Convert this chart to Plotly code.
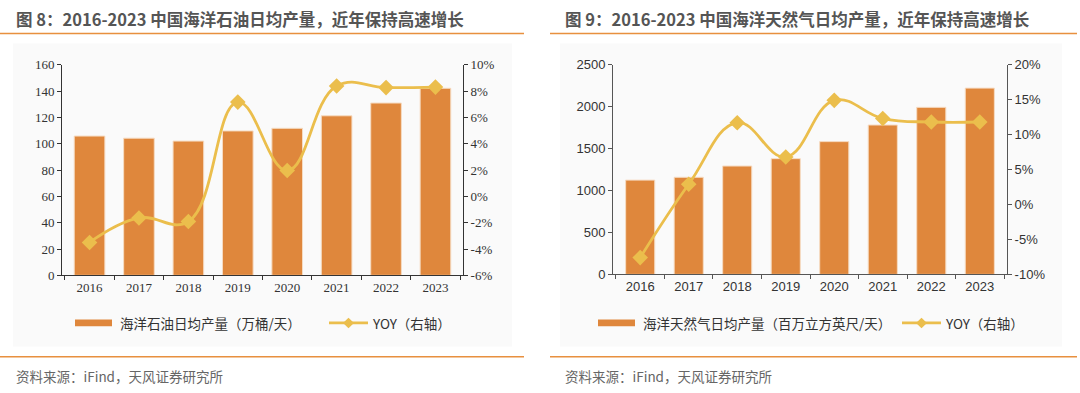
import plotly.graph_objects as go

W, H = 1080, 393

years = ["2016", "2017", "2018", "2019", "2020", "2021", "2022", "2023"]
oil_output = [105.8, 104.2, 102.0, 109.7, 111.7, 121.2, 130.9, 142.1]
oil_yoy = [-3.5, -1.64, -1.91, 7.16, 1.96, 8.38, 8.26, 8.3]
gas_output = [1124, 1158, 1292, 1380, 1583, 1781, 1992, 2221]
gas_yoy = [-7.6, 2.9, 11.7, 6.8, 14.9, 12.3, 11.8, 11.8]

oil_yoy_ticks = [-6, -4, -2, 0, 2, 4, 6, 8, 10]
oil_yoy_ticklabels = ["-6%", "-4%", "-2%", "0%", "2%", "4%", "6%", "8%", "10%"]
gas_yoy_ticks = [-10, -5, 0, 5, 10, 15, 20]
gas_yoy_ticklabels = ["-10%", "-5%", "0%", "5%", "10%", "15%", "20%"]

title_left = "图 8：2016-2023 中国海洋石油日均产量，近年保持高速增长"
title_right = "图 9：2016-2023 中国海洋天然气日均产量，近年保持高速增长"
legend_oil = "海洋石油日均产量（万桶/天）"
legend_gas = "海洋天然气日均产量（百万立方英尺/天）"
legend_yoy = "YOY（右轴）"
source_text = "资料来源：iFind，天风证券研究所"

BAR = "#DF873C"
BAR_EDGE = "#F6DCC3"
LINE = "#EBBE4C"
ORANGE = "#E8903F"
TITLE_C = "#555555"


def px(x):
    return x / W


def py(y):
    return 1 - y / H


fig = go.Figure()

fig.add_trace(go.Bar(x=years, y=oil_output, xaxis="x", yaxis="y",
                     marker=dict(color=BAR, line=dict(color=BAR_EDGE, width=1)),
                     width=0.62, name=legend_oil, showlegend=False))
fig.add_trace(go.Scatter(x=years, y=oil_yoy, xaxis="x", yaxis="y2", mode="lines+markers",
                         line=dict(color=LINE, width=2.8, shape="spline", smoothing=1.2),
                         marker=dict(symbol="diamond", size=12, color=LINE),
                         name=legend_yoy, showlegend=False))
fig.add_trace(go.Bar(x=years, y=gas_output, xaxis="x2", yaxis="y3",
                     marker=dict(color=BAR, line=dict(color=BAR_EDGE, width=1)),
                     width=0.6, name=legend_gas, showlegend=False))
fig.add_trace(go.Scatter(x=years, y=gas_yoy, xaxis="x2", yaxis="y4", mode="lines+markers",
                         line=dict(color=LINE, width=2.8, shape="spline", smoothing=1.2),
                         marker=dict(symbol="diamond", size=12, color=LINE),
                         name=legend_yoy, showlegend=False))

serif = dict(family="Liberation Serif", size=13, color="#333333")
sans = dict(family="Liberation Sans", size=13, color="#333333")

dom_l = [px(62), px(463)]
dom_r = [px(613), px(1007)]
ydom_l = [py(279), py(60)]
ydom_r = [py(278), py(60)]

xcommon = dict(type="category", showgrid=False, ticks="outside", tickson="boundaries",
               ticklen=4, showline=True, linewidth=1, zeroline=False)
ycommon = dict(showgrid=False, ticks="outside", ticklen=4, showline=True,
               linewidth=1, zeroline=False)

fig.update_layout(
    width=W, height=H, autosize=False,
    margin=dict(l=0, r=0, t=0, b=0),
    paper_bgcolor="white", plot_bgcolor="rgba(0,0,0,0)",
    xaxis=dict(domain=dom_l, anchor="y", tickfont=serif, linecolor="#333333",
               tickcolor="#333333", **xcommon),
    yaxis=dict(domain=ydom_l, anchor="x", range=[0, 160], dtick=20, tickfont=serif,
               linecolor="#333333", tickcolor="#333333", **ycommon),
    yaxis2=dict(overlaying="y", side="right", anchor="x", range=[-6, 10],
                tickvals=oil_yoy_ticks, ticktext=oil_yoy_ticklabels,
                tickfont=serif, linecolor="#333333", tickcolor="#333333", **ycommon),
    xaxis2=dict(domain=dom_r, anchor="y3", tickfont=sans, linecolor="#555555",
                tickcolor="#555555", **xcommon),
    yaxis3=dict(domain=ydom_r, anchor="x2", range=[0, 2500], dtick=500, tickfont=sans,
                linecolor="#555555", tickcolor="#555555", **ycommon),
    yaxis4=dict(overlaying="y3", side="right", anchor="x2", range=[-10, 20],
                tickvals=gas_yoy_ticks, ticktext=gas_yoy_ticklabels,
                tickfont=sans, linecolor="#555555", tickcolor="#555555", **ycommon),
)

shapes = []
annotations = []

# faint panels
shapes.append(dict(type="rect", xref="paper", yref="paper", x0=px(13), x1=px(512),
                   y0=py(353), y1=py(38), fillcolor="#FAFAFA", line=dict(width=0), layer="below"))
shapes.append(dict(type="rect", xref="paper", yref="paper", x0=px(560), x1=px(1062),
                   y0=py(353), y1=py(38), fillcolor="#FAFAFA", line=dict(width=0), layer="below"))

# orange rules
for x0, x1 in [(0, 524), (550, 1077)]:
    for y in (27.5, 363.5):
        shapes.append(dict(type="line", xref="paper", yref="paper", x0=px(x0), x1=px(x1),
                           y0=py(y), y1=py(y), line=dict(color=ORANGE, width=1.5)))

# titles and sources
for x, t in [(14, title_left), (563, title_right)]:
    annotations.append(dict(text="<b>" + t + "</b>", xref="paper", yref="paper", x=px(x), y=py(12.5),
                            xanchor="left", yanchor="middle", showarrow=False,
                            font=dict(family="Noto Sans CJK SC", size=16.5, color=TITLE_C)))
    annotations.append(dict(text=source_text, xref="paper", yref="paper", x=px(x), y=py(384),
                            xanchor="left", yanchor="middle", showarrow=False,
                            font=dict(family="Noto Sans CJK SC", size=13.5, color="#666666")))

# legends
leg_font = dict(family="Noto Sans CJK SC", size=13.5, color="#333333")
ly = 328.5
for (bx0, bx1, btext, lx0, lx1) in [(75, 112, legend_oil, 329, 368),
                                      (598, 635, legend_gas, 902, 941)]:
    shapes.append(dict(type="rect", xref="paper", yref="paper", x0=px(bx0), x1=px(bx1),
                       y0=py(ly + 3.5), y1=py(ly - 3.5), fillcolor=BAR, line=dict(width=0)))
    annotations.append(dict(text=btext, xref="paper", yref="paper", x=px(bx1 + 6), y=py(ly),
                            xanchor="left", yanchor="middle", showarrow=False, font=leg_font))
    shapes.append(dict(type="line", xref="paper", yref="paper", x0=px(lx0), x1=px(lx1),
                       y0=py(ly), y1=py(ly), line=dict(color=LINE, width=2.8)))
    cx = (lx0 + lx1) / 2
    shapes.append(dict(type="path", xref="paper", yref="paper",
                       path=f"M {px(cx-5.5)},{py(ly)} L {px(cx)},{py(ly-5.5)} L {px(cx+5.5)},{py(ly)} L {px(cx)},{py(ly+5.5)} Z",
                       fillcolor=LINE, line=dict(width=0)))
    annotations.append(dict(text=legend_yoy, xref="paper", yref="paper", x=px(lx1 + 2), y=py(ly),
                            xanchor="left", yanchor="middle", showarrow=False, font=leg_font))

fig.update_layout(shapes=shapes, annotations=annotations)

fig.write_html("out.html", config={"displayModeBar": False},
               post_script="document.body.style.margin='0';document.body.style.overflow='hidden';")
